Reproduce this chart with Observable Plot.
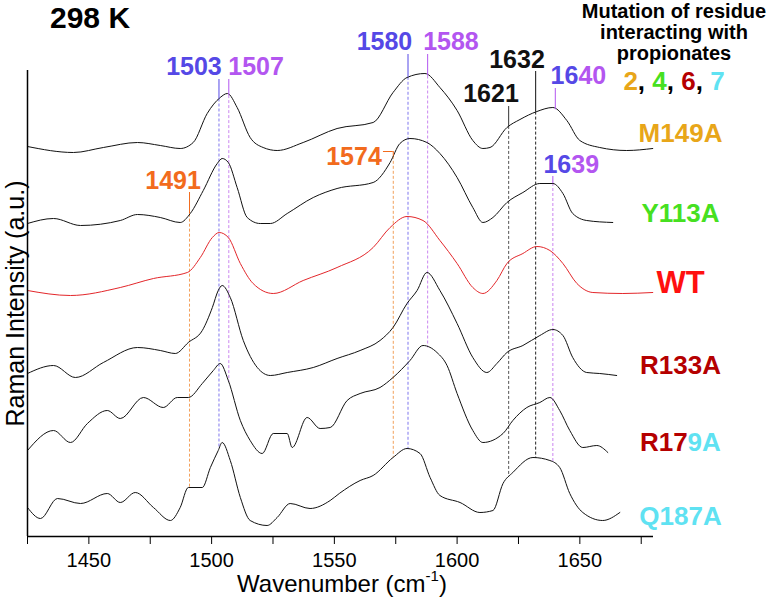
<!DOCTYPE html>
<html>
<head>
<meta charset="utf-8">
<script src="https://cdn.jsdelivr.net/npm/d3@7"></script>
<script src="https://cdn.jsdelivr.net/npm/@observablehq/plot@0.6"></script>
<style>
  body { margin: 0; background: #fff; font-family: "Liberation Sans", Arial, sans-serif; }
  #wrap { position: relative; width: 776px; height: 601px; overflow: hidden; }
  #title { position: absolute; left: 50px; top: 1px; font-size: 30px; font-weight: bold; line-height: 33px; color: #000; }
  #legend { position: absolute; left: 574px; top: 1px; width: 200px; text-align: center; font-weight: bold; font-size: 20px; line-height: 21px; color: #000; white-space: nowrap; }
  #legend .nums { font-size: 26px; line-height: 34px; }
  #xlabel { position: absolute; left: 27px; width: 630px; top: 572px; text-align: center; font-size: 24px; line-height: 24px; color: #000; }
  #xlabel sup { font-size: 15px; line-height: 0; position: relative; top: -2px; }
</style>
</head>
<body>
<div id="wrap"></div>
<script>
// ---------- axes ----------
const xDomain = [1425, 1680];
const yDomain = [0, 466];
const tickValues = [1425, 1450, 1475, 1500, 1525, 1550, 1575, 1600, 1625, 1650, 1675];
const tickLabels = [1450, 1500, 1550, 1600, 1650];
const yLabel = "Raman Intensity (a.u.)";

// ---------- spectra: [wavenumber, intensity (a.u., stacked)] ----------
const M149A = [[1425,390],[1443.7,384],[1455.9,389],[1469.8,394],[1479.1,391],[1487.2,388],[1492.5,394],[1498.2,423],[1503.5,439],[1506.4,443],[1510.4,429],[1515.7,399],[1521,389],[1526.7,386],[1537.3,394],[1551.1,408],[1565.8,414],[1573.9,444],[1579.6,459],[1586.9,463],[1593,449],[1600,426],[1606.4,396],[1610.5,388],[1613.4,389],[1620.3,409],[1625.6,417],[1632.5,425],[1639,429],[1644.7,416],[1650,396],[1658.1,389],[1669.1,386],[1679.7,388]];
const Y113A = [[1425,313],[1435.6,318],[1446.6,311],[1462.8,316],[1469.8,322],[1479.1,319],[1487.2,314],[1491.3,323],[1496.6,346],[1502.3,373],[1504.3,378],[1506.8,374],[1510.4,349],[1514.5,319],[1519.8,313],[1523.9,313],[1530.8,323],[1541.4,339],[1551.1,348],[1565.8,354],[1572.7,374],[1576.7,393],[1580.8,398],[1587.7,394],[1593,383],[1600,359],[1606.4,329],[1610.5,314],[1614.6,319],[1620.3,334],[1626.8,344],[1633.7,353],[1639,353],[1643.1,343],[1647.1,323],[1652.8,316],[1663.4,314]];
const WT = [[1425,246],[1442.5,241],[1462.8,249],[1476.3,258],[1490.1,264],[1495.4,279],[1500.3,299],[1503.1,304],[1506.8,299],[1511.7,273],[1516.9,253],[1525.1,243],[1537.3,256],[1551.1,269],[1565.8,289],[1572.7,309],[1579.6,320],[1586.1,316],[1593,296],[1600,273],[1606.4,249],[1610.5,243],[1616.2,256],[1620.3,273],[1626.8,283],[1632.5,290],[1637.8,286],[1643.1,273],[1648.8,253],[1655.3,244],[1667.5,243],[1679.7,244]];
const R133A = [[1425,163],[1435.6,171],[1444.5,159],[1455.9,174],[1469.8,189],[1479.1,186],[1485.2,183],[1490.5,194],[1496.2,206],[1500.3,229],[1502.7,246],[1504.3,251],[1507.6,239],[1512.9,196],[1518.6,169],[1523.9,161],[1530.8,164],[1541.4,169],[1551.1,178],[1560.5,186],[1568.6,196],[1573.9,209],[1579.6,233],[1583.7,246],[1587.7,264],[1593,246],[1600,213],[1606.4,179],[1612.1,164],[1616.2,173],[1620.3,184],[1626.8,191],[1633.7,201],[1639,207],[1643.1,201],[1647.1,179],[1652.8,164],[1658.1,163],[1665,161]];
const R179A = [[1425,86],[1435.6,106],[1442.5,94],[1449.4,113],[1457.5,126],[1462.8,118],[1472.2,139],[1480.3,129],[1486,139],[1490.5,139],[1496.2,153],[1500.7,166],[1503.5,173],[1506.8,156],[1511.7,116],[1515.7,96],[1520.6,83],[1525.1,103],[1530.8,103],[1532.8,89],[1538.9,119],[1544.2,108],[1548.3,109],[1555.2,136],[1560.5,143],[1568.6,149],[1573.9,159],[1580.8,176],[1586.1,191],[1591.8,184],[1595.9,171],[1600,143],[1606.4,106],[1610.5,94],[1618.7,103],[1622.7,116],[1628.4,129],[1633.7,134],[1637.8,139],[1641.8,126],[1645.9,106],[1651.2,89],[1656.9,91],[1661.4,84]];
const Q187A = [[1425,29],[1430.3,18],[1437.2,38],[1446.6,33],[1457.5,43],[1462.8,34],[1468.9,44],[1476.3,29],[1483.2,16],[1487.2,29],[1490.5,49],[1496.2,49],[1499.5,69],[1502.7,86],[1504.3,94],[1507.6,76],[1511.7,39],[1515.7,16],[1522.6,11],[1526.7,19],[1532,33],[1540.1,28],[1548.3,36],[1552,43],[1560.5,56],[1565.8,61],[1573.9,79],[1579.6,88],[1584.9,83],[1589,59],[1593,41],[1601.2,34],[1609.3,24],[1614.6,26],[1618.7,53],[1622.7,64],[1630.9,79],[1637.8,76],[1641.8,69],[1645.9,43],[1651.2,24],[1659.3,16],[1666.3,24]];

const traces = [M149A, Y113A, WT, R133A, R179A, Q187A];
const traceStroke = ["#111", "#111", "#e3262a", "#111", "#111", "#111"];

// ---------- trace labels ----------
const traceNames = ["M149A", "Y113A", "WT", "R133A", "Q187A"];
const traceLabelY = [402.7, 322.7, 253.5, 171.3, 20];
const traceLabelColor = ["#e8a619", "#46e021", "#ff1010", "#b50000", "#5fe2f2"];
const traceLabelSize = [26, 26, 31, 26, 26];
const traceLabelX = 1691;
// R179A label in two colours
const splitTraceLabel = [{a: "R17", b: "9A", ca: "#b50000", cb: "#5fe2f2", x: 1693.9, y: 93.5}];

// ---------- peak annotations ----------
const blue = "#5548e6", violet = "#b356f0", orange = "#f26b1d", black = "#111";
const peakWave      = [1491, 1503, 1507, 1574, 1580, 1588, 1621, 1632, 1640, 1639];
const peakLabel     = ["1491", "1503", "1507", "1574", "1580", "1588", "1621", "1632", "1640", "1639"];
const peakLabelX    = [1484.3, 1492.8, 1518.1, 1558.0, 1570.4, 1597.5, 1613.8, 1624.4, 1649.4, 1646.5];
const peakLabelY    = [356, 470, 470, 379.5, 495, 495, 443, 477, 461, 372];
const peakLabelColor= [orange, blue, violet, orange, blue, violet, black, black, null, null];
const peakLineTop   = [344, 457, 457, 385, 482, 482, 430, 465, 448, 360];
const peakLeaderX   = [null, null, null, 1570, null, null, null, null, null, null];
const peakTopTrace  = [1, 0, 0, 1, 0, 0, 0, 0, 0, 1];
const peakBotTrace  = [5, 5, 4, 5, 5, 4, 5, 5, 0, 5];
const peakLineColor = [orange, blue, violet, orange, blue, violet, "#333", "#111", violet, violet];
const peakDashColor = ["#f3a05a", "#7f76ee", "#cb86f0", "#f3a05a", "#7f76ee", "#cb86f0", "#555", "#222", "#cb86f0", "#cb86f0"];
// two-colour labels: first part blue, second violet
const peakSplitAt   = [0, 0, 0, 0, 0, 0, 0, 0, 2, 2];

function valueAt(pts, w) {
  if (w <= pts[0][0]) return pts[0][1];
  for (let i = 0; i < pts.length - 1; i++) {
    const [x0, y0] = pts[i], [x1, y1] = pts[i + 1];
    if (w >= x0 && w <= x1) return y0 + (y1 - y0) * (w - x0) / (x1 - x0);
  }
  return pts[pts.length - 1][1];
}

const solidRows = peakWave.map((w, i) => ({x: w, y1: peakLineTop[i], y2: valueAt(traces[peakTopTrace[i]], w), c: peakLineColor[i]}));
const dashRows = peakWave.map((w, i) => ({x: w, y1: valueAt(traces[peakTopTrace[i]], w), y2: valueAt(traces[peakBotTrace[i]], w), c: peakDashColor[i], keep: peakBotTrace[i] !== peakTopTrace[i]})).filter(d => d.keep);
const leaderRows = peakWave.map((w, i) => ({x1: peakLeaderX[i], x2: w, y: peakLineTop[i], c: peakLineColor[i]})).filter(d => d.x1 != null);
const plainLabels = peakLabel.map((t, i) => ({t, x: peakLabelX[i], y: peakLabelY[i], c: peakLabelColor[i], s: peakSplitAt[i]})).filter(d => !d.s);
const splitLabels = peakLabel.map((t, i) => ({a: t.slice(0, peakSplitAt[i]), b: t.slice(peakSplitAt[i]), x: peakLabelX[i], y: peakLabelY[i], s: peakSplitAt[i], ca: blue, cb: violet})).filter(d => d.s);
const traceLabelRows = traceNames.map((t, i) => ({t, x: traceLabelX, y: traceLabelY[i], c: traceLabelColor[i], s: traceLabelSize[i]}));

const chart = Plot.plot({
  width: 776,
  height: 601,
  marginLeft: 27,
  marginRight: 123,
  marginTop: 70,
  marginBottom: 65,
  style: {fontFamily: '"Liberation Sans", Arial, sans-serif', fontSize: "20px", background: "transparent", color: "#000", overflow: "visible"},
  color: {type: "identity"},
  x: {domain: xDomain, ticks: tickValues, tickFormat: d => tickLabels.includes(d) ? String(d) : "", tickSize: 8, tickPadding: 8, label: null},
  y: {domain: yDomain, axis: null},
  marks: [
    Plot.ruleX(dashRows, {x: "x", y1: "y1", y2: "y2", stroke: "c", strokeWidth: 1, strokeDasharray: "3,2"}),
    ...traces.map((t, i) => Plot.line(t, {x: d => d[0], y: d => d[1], stroke: traceStroke[i], strokeWidth: 1, curve: "monotone-x"})),
    Plot.ruleX(solidRows, {x: "x", y1: "y1", y2: "y2", stroke: "c", strokeWidth: 1}),
    Plot.ruleY(leaderRows, {y: "y", x1: "x1", x2: "x2", stroke: "c", strokeWidth: 1}),
    Plot.text(plainLabels, {x: "x", y: "y", text: "t", fill: "c", fontSize: 25, fontWeight: "bold"}),
    Plot.text(splitLabels, {x: "x", y: "y", text: "a", fill: "ca", fontSize: 25, fontWeight: "bold", textAnchor: "end"}),
    Plot.text(splitLabels, {x: "x", y: "y", text: "b", fill: "cb", fontSize: 25, fontWeight: "bold", textAnchor: "start"}),
    Plot.text(traceLabelRows, {x: "x", y: "y", text: "t", fill: "c", fontSize: "s", fontWeight: "bold"}),
    Plot.text(splitTraceLabel, {x: "x", y: "y", text: "a", fill: "ca", fontSize: 26, fontWeight: "bold", textAnchor: "end"}),
    Plot.text(splitTraceLabel, {x: "x", y: "y", text: "b", fill: "cb", fontSize: 26, fontWeight: "bold", textAnchor: "start"}),
    Plot.text([yLabel], {frameAnchor: "left", dx: -12, rotate: -90, textAnchor: "middle", fontSize: 25}),
    Plot.ruleX([xDomain[0]], {stroke: "#000", strokeWidth: 1.5}),
    Plot.ruleY([yDomain[0]], {stroke: "#000", strokeWidth: 1.5})
  ]
});

const wrap = document.getElementById("wrap");
wrap.appendChild(chart);

const title = document.createElement("div");
title.id = "title";
title.textContent = "298 K";
wrap.appendChild(title);

const legend = document.createElement("div");
legend.id = "legend";
legend.innerHTML = 'Mutation of residue<br>interacting with<br>propionates<br>' +
  '<span class="nums"><span style="color:#e8a619">2</span>, <span style="color:#46e021">4</span>, <span style="color:#b50000">6</span>, <span style="color:#5fe2f2">7</span></span>';
wrap.appendChild(legend);

const xl = document.createElement("div");
xl.id = "xlabel";
xl.innerHTML = 'Wavenumber (cm<sup>-1</sup>)';
wrap.appendChild(xl);
</script>
</body>
</html>
